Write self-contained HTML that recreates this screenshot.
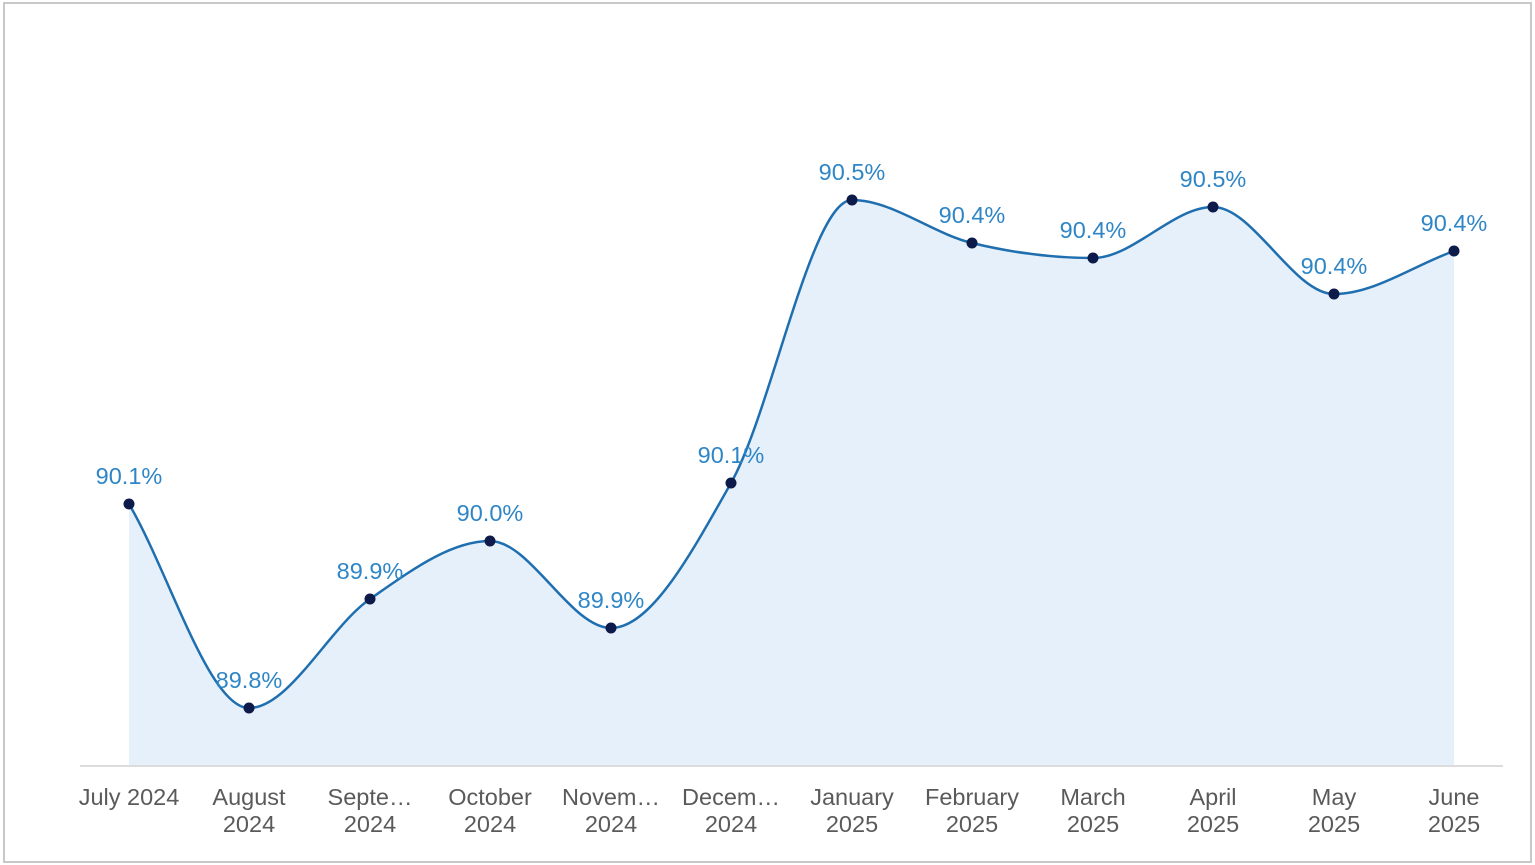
<!DOCTYPE html>
<html><head><meta charset="utf-8"><style>
html,body{margin:0;padding:0;background:#fff;}
svg{display:block;}
text{font-family:"Liberation Sans",Arial,sans-serif;}
</style></head><body>
<svg id="s" width="1535" height="865" xmlns="http://www.w3.org/2000/svg">
<rect x="4" y="3" width="1527" height="859" fill="#fff" stroke="#c8c8c8" stroke-width="2"/>
<path id="area" fill="#e6f0fa"/>
<line x1="80" y1="766" x2="1503" y2="766" stroke="#dcdcdc" stroke-width="2"/>
<path id="line" fill="none" stroke="#1f6fb0" stroke-width="2.5"/>
<g id="pts"></g>
</svg>
<script>
var P=[[129,504],[249,708],[370,599],[490,541],[611,628],[731,483],[852,200],[972,243],[1093,258],[1213,207],[1334,294],[1454,251]];
var L=["90.1%","89.8%","89.9%","90.0%","89.9%","90.1%","90.5%","90.4%","90.4%","90.5%","90.4%","90.4%"];
var X=[["July 2024"],["August","2024"],["Septe…","2024"],["October","2024"],["Novem…","2024"],["Decem…","2024"],["January","2025"],["February","2025"],["March","2025"],["April","2025"],["May","2025"],["June","2025"]];
var n=P.length,s=[],m=[];
for(var i=0;i<n-1;i++)s.push((P[i+1][1]-P[i][1])/(P[i+1][0]-P[i][0]));
for(var i=0;i<n;i++){
 if(i==0)m.push(s[0]);else if(i==n-1)m.push(s[n-2]);
 else{var a=s[i-1],b=s[i];
  if(a*b<=0)m.push(0);else{var h0=P[i][0]-P[i-1][0],h1=P[i+1][0]-P[i][0];
   var p=(a*h1+b*h0)/(h0+h1);m.push((Math.sign(a)+Math.sign(b))*Math.min(Math.abs(a),Math.abs(b),0.5*Math.abs(p)));}}
}
var d="M"+P[0][0]+","+P[0][1];
for(var i=0;i<n-1;i++){
 var dx=(P[i+1][0]-P[i][0])/3;
 d+=" C"+(P[i][0]+dx)+","+(P[i][1]+m[i]*dx)+" "+(P[i+1][0]-dx)+","+(P[i+1][1]-m[i+1]*dx)+" "+P[i+1][0]+","+P[i+1][1];
}
document.getElementById("line").setAttribute("d",d);
document.getElementById("area").setAttribute("d",d+" L1454,766 L129,766 Z");
var g=document.getElementById("pts"),h="";
P.forEach(function(p,i){
 h+='<circle cx="'+p[0]+'" cy="'+p[1]+'" r="5.5" fill="#0d1b4a"/>';
 h+='<text x="'+p[0]+'" y="'+(p[1]-20)+'" text-anchor="middle" font-size="23.5" fill="#2f86c6">'+L[i]+'</text>';
 X[i].forEach(function(t,j){h+='<text x="'+p[0]+'" y="'+(805+j*27)+'" text-anchor="middle" font-size="23.5" fill="#5a5a5a">'+t+'</text>';});
});
g.innerHTML=h;
</script>
</body></html>
